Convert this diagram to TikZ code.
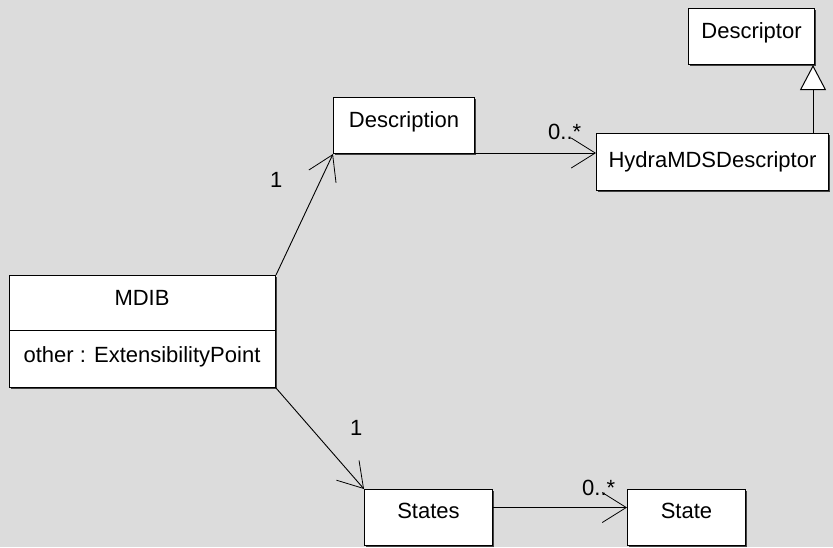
\documentclass[tikz,border=0pt]{standalone}
\usepackage{fontspec}
\setmainfont{Liberation Sans}
\usetikzlibrary{arrows.meta,shadows}
\definecolor{bg}{RGB}{220,220,220}
\begin{document}
\begin{tikzpicture}[x=1pt,y=-1pt,
  uml/.style={font=\fontsize{22}{26}\selectfont},
  cls/.style={uml, draw=black, fill=white, line width=1pt, inner sep=0pt, anchor=north west,
    drop shadow={shadow xshift=1.2pt, shadow yshift=-1.2pt, opacity=0.7, fill=black}},
  assoc/.style={line width=0.9pt, -{Straight Barb[length=24pt,width=30pt,line width=0.8pt]}},
  gen/.style={line width=1pt, -{Triangle[open,length=25pt,width=26pt,fill=white,line width=1pt]}},
  mult/.style={uml, inner sep=0pt, anchor=base west}]
\fill[bg] (0,0) rectangle (833,547);
\useasboundingbox (0,0) rectangle (833,547);

% classes
\node[cls, minimum width=126pt, text height=30pt, text depth=26pt] (descriptor) at (688,8) {Descriptor};
\node[cls, minimum width=232pt, text height=34pt, text depth=23pt] (hydra) at (596,133) {HydraMDSDescriptor};
\node[cls, minimum width=141pt, text height=30pt, text depth=26pt] (desc) at (333,97) {Description};
\node[cls, minimum width=266pt, minimum height=112pt] (mdib) at (9,275) {};
\node[cls, minimum width=128pt, text height=29pt, text depth=27pt] (states) at (364,489) {States};
\node[cls, minimum width=118pt, text height=29pt, text depth=27pt] (state) at (627,489) {State};

% MDIB compartments
\coordinate (sepy) at (0,330);
\draw[line width=1pt] (mdib.west |- sepy) -- (mdib.east |- sepy);
\node[uml, inner sep=0pt, anchor=base] (mdibname) at (142,305) {MDIB};
\node[uml, inner sep=0pt, anchor=base] (mdibattr) at (142,362) {other : ExtensibilityPoint};

% connectors
\draw[assoc] (mdib.north east) -- (desc.south west);
\draw[assoc] (mdib.south east) -- (states.north west);
\coordinate (d1) at ([yshift=1pt]desc.south east);
\draw[assoc] (d1) -- (d1 -| hydra.west);
\coordinate (s1) at ([yshift=10pt]states.east);
\draw[assoc] (s1) -- (s1 -| state.west);
\coordinate (g1) at ([xshift=-2pt]descriptor.south east);
\draw[gen] (g1 |- hydra.north) -- (g1);

% multiplicities
\node[mult] (m1) at (270,187) {1};
\node[mult] (m2) at (350,435) {1};
\node[mult] (m3) at (548,139) {0..*};
\node[mult] (m4) at (582,495) {0..*};
\end{tikzpicture}
\end{document}
